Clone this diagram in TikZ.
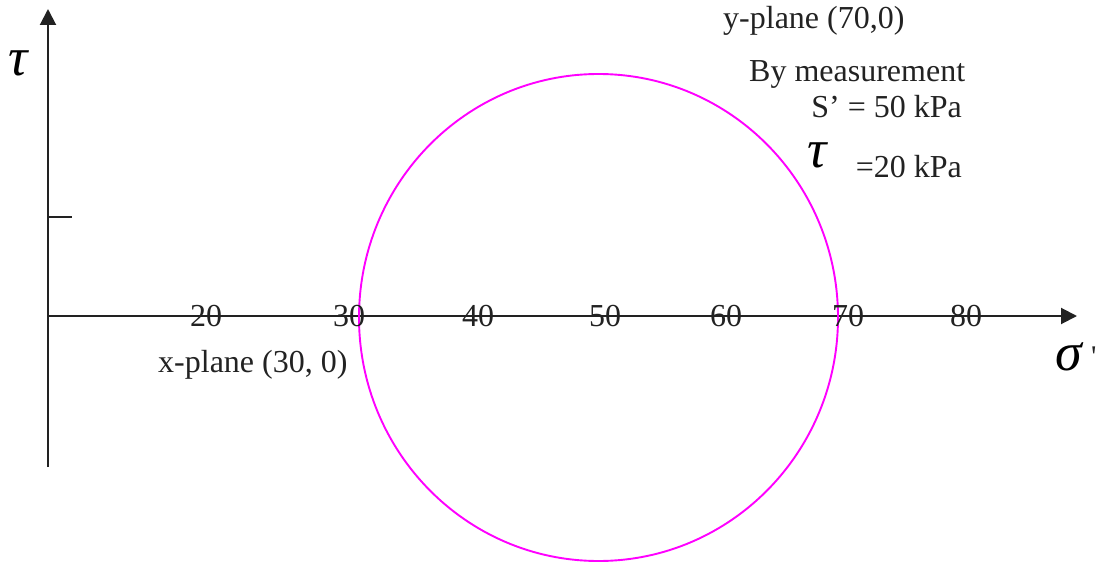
\documentclass[tikz,border=0pt]{standalone}
\usepackage{fontspec}
\setmainfont{Liberation Serif}
\newfontfamily\rawserif{Liberation Serif}
\usetikzlibrary{arrows.meta}
\definecolor{axisgray}{HTML}{222222}
\definecolor{circmag}{HTML}{FF00FF}
\begin{document}
\begin{tikzpicture}[x=1pt,y=-1pt,
  lbl/.style={inner sep=0pt, font=\fontsize{32}{38}\selectfont, text=axisgray},
  greek/.style={inner sep=0pt, font=\fontsize{54}{60}\selectfont\itshape, text=black},
  axisline/.style={line width=2pt, draw=axisgray, -{Triangle[length=16pt,width=16pt]}},
  tickline/.style={line width=1.4pt, draw=axisgray},
  mohr/.style={line width=1.9pt, draw=circmag}]
\useasboundingbox (0,0) rectangle (1111,567);
% axes
\coordinate (O) at (48,316);
\coordinate (ybot) at (48,467);
\coordinate (ytop) at (48,9);
\coordinate (xend) at (1077,316);
\coordinate (tick) at (72,217);
\coordinate (tickb) at (48,217);
\draw[axisline] (ybot) -- (ytop);
\draw[axisline] (O) -- (xend);
\draw[tickline] (tickb) -- (tick);
% circle
\coordinate (C) at (598.5,317.5);
\draw[mohr] (C) ellipse [x radius=239.5, y radius=243.5];
% tick labels
\foreach \v/\x in {20/206,30/349,40/478,50/605,60/726,70/848,80/966}
  \node[lbl] (t\v) at (\x,316) {\v};
% texts
\node[lbl, anchor=base west] (xplane) at (158,372) {x-plane (30, 0)};
\node[lbl, anchor=base west] (yplane) at (723,29) {y-plane (70,0)};
\node[lbl, anchor=base west] (meas) at (749,82) {By measurement};
\node[lbl, anchor=base east] (sval) at (962,118) {S’ = 50 kPa};
\node[lbl, anchor=base east] (tval) at (962,177) {=20 kPa};
\node[greek, anchor=south west] (tauR) at (807,168) {τ};
\node[greek, anchor=south west] (tauL) at (8,76) {τ};
\node[greek, anchor=south west] (sig) at (1055,371) {σ};
\node[lbl, anchor=north west, font=\fontsize{30}{36}\selectfont\rawserif] (prime) at (1091,347) {'};
\end{tikzpicture}
\end{document}
